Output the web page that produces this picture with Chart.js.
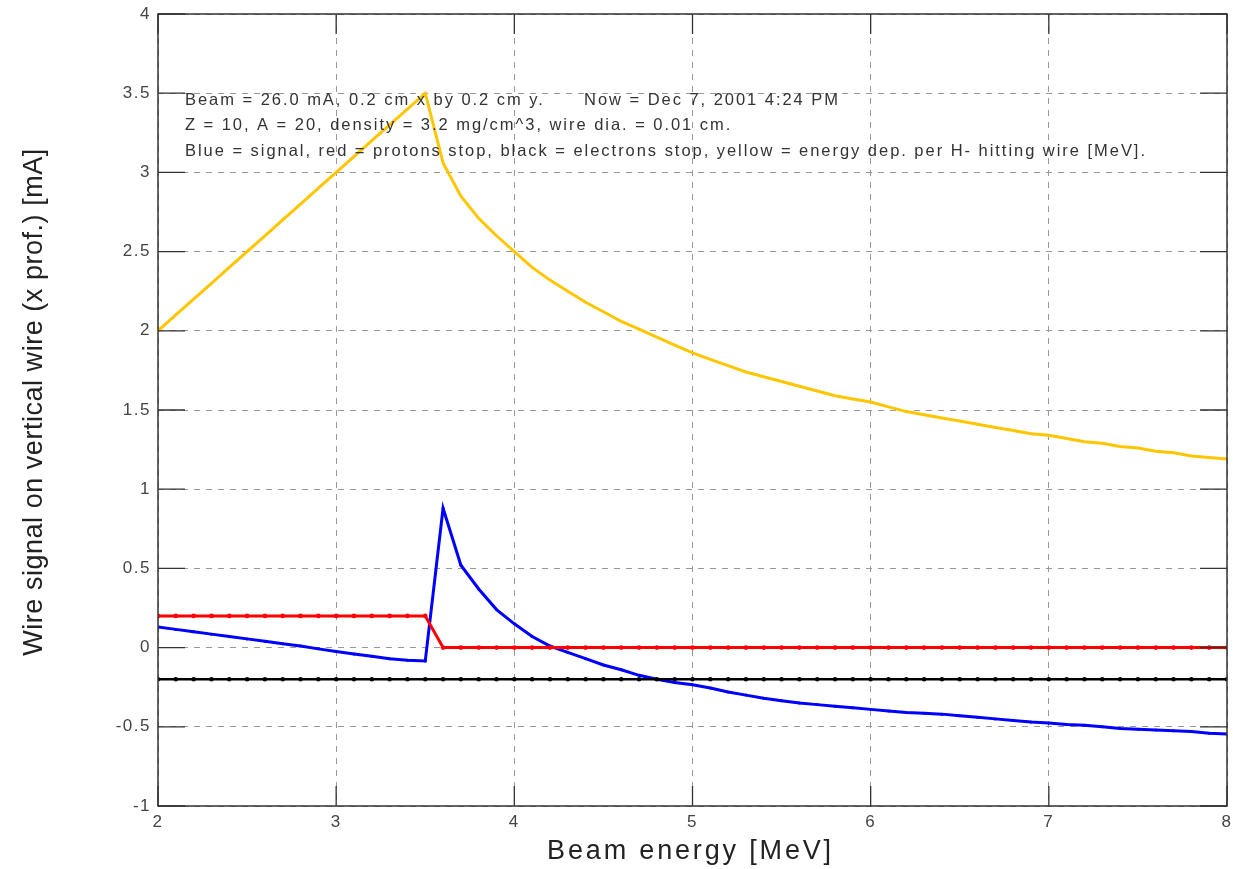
<!DOCTYPE html>
<html>
<head>
<meta charset="utf-8">
<script src="https://cdn.jsdelivr.net/npm/chart.js@4.4.1/dist/chart.umd.min.js"></script>
<style>
  html, body { margin: 0; padding: 0; background: #fff; overflow: hidden; }
  #wrap { width: 1233px; height: 869px; position: relative; }
  canvas { display: block; }
</style>
</head>
<body>
<div id="wrap"><canvas id="wireChart"></canvas></div>
<script>
// Beam energy [MeV]
const energy = [
  2.0, 2.1, 2.2, 2.3, 2.4, 2.5, 2.6, 2.7, 2.8, 2.9,
  3.0, 3.1, 3.2, 3.3, 3.4, 3.5, 3.6, 3.7, 3.8, 3.9,
  4.0, 4.1, 4.2, 4.3, 4.4, 4.5, 4.6, 4.7, 4.8, 4.9,
  5.0, 5.1, 5.2, 5.3, 5.4, 5.5, 5.6, 5.7, 5.8, 5.9,
  6.0, 6.1, 6.2, 6.3, 6.4, 6.5, 6.6, 6.7, 6.8, 6.9,
  7.0, 7.1, 7.2, 7.3, 7.4, 7.5, 7.6, 7.7, 7.8, 7.9, 8.0
];

// blue = signal
const signal = [
  0.13, 0.115, 0.10, 0.085, 0.07, 0.055, 0.04, 0.025, 0.01, -0.008,
  -0.024, -0.04, -0.055, -0.07, -0.08, -0.085, 0.88, 0.52, 0.37, 0.24,
  0.15, 0.07, 0.01, -0.03, -0.07, -0.11, -0.14, -0.175, -0.20, -0.22,
  -0.235, -0.255, -0.28, -0.30, -0.32, -0.335, -0.35, -0.36, -0.37, -0.38,
  -0.39, -0.40, -0.41, -0.415, -0.42, -0.43, -0.44, -0.45, -0.46, -0.47,
  -0.476, -0.485, -0.49, -0.50, -0.51, -0.515, -0.52, -0.525, -0.53, -0.54, -0.545
];

// red = protons stop
const protonsStop = [
  0.2, 0.2, 0.2, 0.2, 0.2, 0.2, 0.2, 0.2, 0.2, 0.2,
  0.2, 0.2, 0.2, 0.2, 0.2, 0.2, 0, 0, 0, 0,
  0, 0, 0, 0, 0, 0, 0, 0, 0, 0,
  0, 0, 0, 0, 0, 0, 0, 0, 0, 0,
  0, 0, 0, 0, 0, 0, 0, 0, 0, 0,
  0, 0, 0, 0, 0, 0, 0, 0, 0, 0, 0
];

// black = electrons stop
const electronsStop = [
  -0.2, -0.2, -0.2, -0.2, -0.2, -0.2, -0.2, -0.2, -0.2, -0.2,
  -0.2, -0.2, -0.2, -0.2, -0.2, -0.2, -0.2, -0.2, -0.2, -0.2,
  -0.2, -0.2, -0.2, -0.2, -0.2, -0.2, -0.2, -0.2, -0.2, -0.2,
  -0.2, -0.2, -0.2, -0.2, -0.2, -0.2, -0.2, -0.2, -0.2, -0.2,
  -0.2, -0.2, -0.2, -0.2, -0.2, -0.2, -0.2, -0.2, -0.2, -0.2,
  -0.2, -0.2, -0.2, -0.2, -0.2, -0.2, -0.2, -0.2, -0.2, -0.2, -0.2
];

// yellow = energy dep. per H- hitting wire [MeV]
const energyDep = [
  2.0, 2.1, 2.2, 2.3, 2.4, 2.5, 2.6, 2.7, 2.8, 2.9,
  3.0, 3.1, 3.2, 3.3, 3.4, 3.5, 3.06, 2.85, 2.71, 2.60,
  2.50, 2.40, 2.32, 2.25, 2.18, 2.12, 2.06, 2.01, 1.96, 1.91,
  1.86, 1.82, 1.78, 1.74, 1.71, 1.68, 1.65, 1.62, 1.59, 1.57,
  1.55, 1.52, 1.49, 1.47, 1.45, 1.43, 1.41, 1.39, 1.37, 1.35,
  1.34, 1.32, 1.30, 1.29, 1.27, 1.26, 1.24, 1.23, 1.21, 1.20, 1.19
];

const infoLines = [
  'Beam = 26.0 mA, 0.2 cm x by 0.2 cm y.      Now = Dec 7, 2001 4:24 PM',
  'Z = 10, A = 20, density = 3.2 mg/cm^3, wire dia. = 0.01 cm.',
  'Blue = signal, red = protons stop, black = electrons stop, yellow = energy dep. per H- hitting wire [MeV].'
];
const xTitle = 'Beam energy [MeV]';
const yTitle = 'Wire signal on vertical wire (x prof.) [mA]';

const FONT = '"Liberation Sans", Arial, sans-serif';
const toPoints = ys => energy.map((x, i) => ({ x: x, y: ys[i] }));

// spread a string so it covers the given width (old matlab text is wide)
function spreadText(ctx, text, width) {
  ctx.letterSpacing = '0px';
  const w = ctx.measureText(text).width;
  return Math.max(0, (width - w) / (text.length - 1));
}

const matlabBox = {
  id: 'matlabBox',
  beforeDraw(chart) {
    chart.ctx.letterSpacing = '1.5px';
  },
  afterDatasetsDraw(chart) {
    const { ctx, chartArea: a, scales } = chart;
    ctx.save();
    ctx.letterSpacing = '0px';
    ctx.strokeStyle = '#333';
    ctx.lineWidth = 1.5;
    ctx.strokeRect(a.left, a.top, a.right - a.left, a.bottom - a.top);
    ctx.lineWidth = 1.3;
    ctx.beginPath();
    scales.x.ticks.forEach(t => {
      const px = scales.x.getPixelForValue(t.value);
      ctx.moveTo(px, a.bottom); ctx.lineTo(px, a.bottom - 20);
      ctx.moveTo(px, a.top); ctx.lineTo(px, a.top + 20);
    });
    scales.y.ticks.forEach(t => {
      const py = scales.y.getPixelForValue(t.value);
      ctx.moveTo(a.left, py); ctx.lineTo(a.left + 27, py);
      ctx.moveTo(a.right, py); ctx.lineTo(a.right - 27, py);
    });
    ctx.stroke();

    // info text block
    ctx.fillStyle = '#333';
    ctx.font = '16.5px ' + FONT;
    ctx.textBaseline = 'middle';
    ctx.letterSpacing = spreadText(ctx, infoLines[2], 960) + 'px';
    infoLines.forEach((line, i) => {
      ctx.fillText(line, a.left + 27, a.top + 86 + i * 25.5);
    });

    // axis titles
    ctx.fillStyle = '#222';
    ctx.font = '27px ' + FONT;
    ctx.textAlign = 'center';
    ctx.letterSpacing = spreadText(ctx, xTitle, 284) + 'px';
    ctx.fillText(xTitle, (a.left + a.right) / 2 - 2, 852);

    ctx.font = '27px ' + FONT;
    ctx.letterSpacing = spreadText(ctx, yTitle, 507) + 'px';
    ctx.translate(35, 402);
    ctx.rotate(-Math.PI / 2);
    ctx.fillText(yTitle, 0, 0);
    ctx.restore();
  },
  afterDraw(chart) {
    chart.ctx.letterSpacing = '0px';
  }
};

new Chart(document.getElementById('wireChart'), {
  type: 'line',
  data: {
    datasets: [
      {
        label: 'energy dep.',
        data: toPoints(energyDep),
        borderColor: 'rgb(255,198,0)',
        borderWidth: 3,
        pointRadius: 0,
        tension: 0,
      },
      {
        label: 'electrons stop',
        data: toPoints(electronsStop),
        borderColor: '#000',
        backgroundColor: '#000',
        borderWidth: 2.5,
        pointRadius: 2.3,
        pointBorderWidth: 0,
        tension: 0,
      },
      {
        label: 'protons stop',
        data: toPoints(protonsStop),
        borderColor: 'rgb(255,0,0)',
        backgroundColor: 'rgb(255,0,0)',
        borderWidth: 3,
        pointRadius: 2.3,
        pointBorderWidth: 0,
        tension: 0,
      },
      {
        label: 'signal',
        data: toPoints(signal),
        borderColor: 'rgb(0,0,255)',
        backgroundColor: 'rgb(0,0,255)',
        borderWidth: 3,
        pointRadius: 1.5,
        pointBorderWidth: 0,
        tension: 0,
      },
    ],
  },
  options: {
    responsive: true,
    maintainAspectRatio: false,
    animation: false,
    layout: { padding: { top: 14, right: 6, left: 0, bottom: 0 } },
    plugins: {
      legend: { display: false },
      tooltip: { enabled: false },
    },
    scales: {
      x: {
        type: 'linear',
        min: 2,
        max: 8,
        ticks: {
          stepSize: 1,
          color: '#444',
          font: { size: 17, family: 'Liberation Sans' },
          padding: 6,
          callback: v => String(v),
        },
        grid: { color: '#999', lineWidth: 1, drawTicks: false },
        border: { display: false, dash: [6, 6] },
        afterFit(scale) {
          scale.height = 63;
          scale.paddingLeft = 0;
          scale.paddingRight = 0;
        },
      },
      y: {
        min: -1,
        max: 4,
        ticks: {
          stepSize: 0.5,
          color: '#444',
          font: { size: 17, family: 'Liberation Sans' },
          padding: 7,
          callback: v => String(v),
        },
        grid: { color: '#999', lineWidth: 1, drawTicks: false },
        border: { display: false, dash: [6, 6] },
        afterFit(scale) {
          scale.width = 158;
          scale.paddingTop = 0;
          scale.paddingBottom = 0;
        },
      },
    },
  },
  plugins: [matlabBox],
});
</script>
</body>
</html>
